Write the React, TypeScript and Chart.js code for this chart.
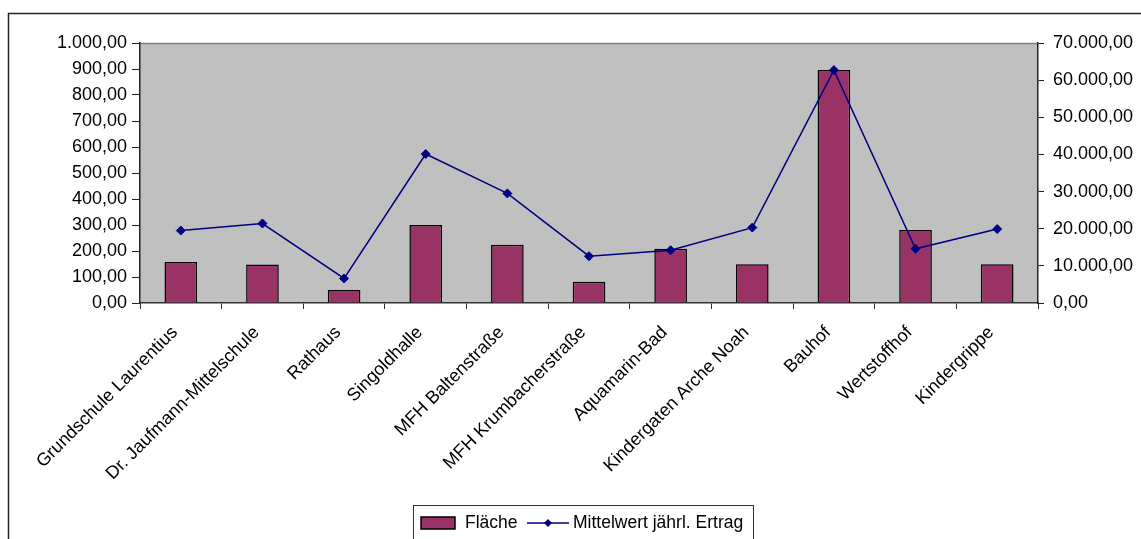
import React, { useEffect, useRef } from "react";
import { Chart, registerables } from "chart.js";

Chart.register(...registerables);

const categories = [
  "Grundschule Laurentius",
  "Dr. Jaufmann-Mittelschule",
  "Rathaus",
  "Singoldhalle",
  "MFH Baltenstraße",
  "MFH Krumbacherstraße",
  "Aquamarin-Bad",
  "Kindergaten Arche Noah",
  "Bauhof",
  "Wertstoffhof",
  "Kindergrippe",
];

// Fläche (left axis)
const flaeche = [158, 148, 50, 300, 224, 82, 209, 149, 896, 281, 149];

// Mittelwert jährl. Ertrag (right axis)
const ertrag = [19500, 21400, 6600, 40100, 29500, 12600, 14200, 20300, 62700, 14600, 19900];

const seriesNames = ["Fläche", "Mittelwert jährl. Ertrag"];

const leftTicks = { min: 0, max: 1000, step: 100 };
const rightTicks = { min: 0, max: 70000, step: 10000 };

const BAR_COLOR = "#993366";
const LINE_COLOR = "#000080";
const FONT = '"Liberation Sans", Arial, sans-serif';
const W = 1141;
const H = 539;

function formatDe(v: number): string {
  const [i, f] = Math.abs(v).toFixed(2).split(".");
  const intPart = i.replace(/\B(?=(\d{3})+(?!\d))/g, ".");
  return (v < 0 ? "-" : "") + intPart + "," + f;
}

const framePlugin = {
  id: "excelFrame",
  beforeDraw(chart: any) {
    const { ctx, chartArea } = chart;
    ctx.save();
    ctx.fillStyle = "#ffffff";
    ctx.fillRect(0, 0, chart.width, chart.height);
    // outer chart frame
    ctx.strokeStyle = "#222222";
    ctx.lineWidth = 1.5;
    ctx.beginPath();
    ctx.moveTo(8.5, H + 2);
    ctx.lineTo(8.5, 13.5);
    ctx.lineTo(W + 2, 13.5);
    ctx.stroke();
    // plot area
    ctx.fillStyle = "#C0C0C0";
    ctx.fillRect(chartArea.left, chartArea.top, chartArea.right - chartArea.left, chartArea.bottom - chartArea.top);
    ctx.strokeStyle = "#808080";
    ctx.lineWidth = 1.5;
    ctx.beginPath();
    ctx.moveTo(chartArea.left, chartArea.top + 0.5);
    ctx.lineTo(chartArea.right, chartArea.top + 0.5);
    ctx.stroke();
    ctx.restore();
  },
  afterDraw(chart: any) {
    const { ctx } = chart;
    ctx.save();
    // legend box
    const bx = 413.5;
    const by = 505.5;
    const bw = 340;
    ctx.strokeStyle = "#333333";
    ctx.lineWidth = 1;
    ctx.fillStyle = "#ffffff";
    ctx.fillRect(bx, by, bw, 40);
    ctx.strokeRect(bx, by, bw, 40);
    const cy = 523;
    // bar swatch
    ctx.fillStyle = BAR_COLOR;
    ctx.fillRect(421, 517, 34, 12);
    ctx.strokeStyle = "#000000";
    ctx.lineWidth = 1.5;
    ctx.strokeRect(421, 517, 34, 12);
    ctx.fillStyle = "#000000";
    ctx.font = `17.5px ${FONT}`;
    ctx.textBaseline = "middle";
    ctx.textAlign = "left";
    ctx.fillText(seriesNames[0], 465, cy);
    // line swatch
    ctx.strokeStyle = LINE_COLOR;
    ctx.lineWidth = 1.5;
    ctx.beginPath();
    ctx.moveTo(527, cy);
    ctx.lineTo(569, cy);
    ctx.stroke();
    ctx.fillStyle = LINE_COLOR;
    ctx.beginPath();
    ctx.moveTo(548, cy - 4);
    ctx.lineTo(552, cy);
    ctx.lineTo(548, cy + 4);
    ctx.lineTo(544, cy);
    ctx.closePath();
    ctx.fill();
    ctx.fillStyle = "#000000";
    ctx.fillText(seriesNames[1], 573, cy);
    ctx.restore();
  },
};

export default function App() {
  const canvasRef = useRef<HTMLCanvasElement | null>(null);

  useEffect(() => {
    const canvas = canvasRef.current;
    if (!canvas) return;
    const chart = new Chart(canvas, {
      type: "bar",
      data: {
        labels: categories,
        datasets: [
          {
            type: "line",
            label: seriesNames[1],
            data: ertrag,
            yAxisID: "y1",
            borderColor: LINE_COLOR,
            backgroundColor: LINE_COLOR,
            borderWidth: 1.5,
            pointStyle: "rectRot",
            pointRadius: 4.5,
            pointBorderWidth: 1,
            pointBackgroundColor: LINE_COLOR,
            pointBorderColor: LINE_COLOR,
            tension: 0,
            order: 0,
          } as any,
          {
            type: "bar",
            label: seriesNames[0],
            data: flaeche,
            yAxisID: "y",
            backgroundColor: BAR_COLOR,
            borderColor: "#000000",
            borderWidth: 1.5,
            barPercentage: 0.4,
            categoryPercentage: 1,
            order: 1,
          },
        ],
      },
      options: {
        responsive: false,
        animation: false,
        layout: { padding: { left: 0, right: 0, top: 43, bottom: 0 } },
        plugins: {
          legend: { display: false },
          tooltip: { enabled: false },
        },
        scales: {
          x: {
            offset: true,
            grid: {
              offset: true,
              drawOnChartArea: false,
              tickLength: 6,
              color: "#333333",
              lineWidth: 1,
            },
            border: { display: true, color: "#333333", width: 1.5 },
            ticks: {
              autoSkip: false,
              maxRotation: 45,
              minRotation: 45,
              color: "#000000",
              padding: 13,
              labelOffset: -6,
              font: { family: FONT, size: 18 },
            },
            afterFit(scale: any) {
              scale.height = H - 303;
            },
          },
          y: {
            position: "left",
            min: leftTicks.min,
            max: leftTicks.max,
            ticks: {
              stepSize: leftTicks.step,
              color: "#000000",
              padding: 5,
              font: { family: FONT, size: 18 },
              callback: (v: any) => formatDe(Number(v)),
            },
            grid: { drawOnChartArea: false, tickLength: 8, color: "#222222", lineWidth: 1 },
            border: { display: true, color: "#222222", width: 1.5 },
            afterFit(scale: any) {
              scale.width = 140;
            },
          },
          y1: {
            position: "right",
            min: rightTicks.min,
            max: rightTicks.max,
            ticks: {
              stepSize: rightTicks.step,
              color: "#000000",
              padding: 9,
              font: { family: FONT, size: 18 },
              callback: (v: any) => formatDe(Number(v)),
            },
            grid: { drawOnChartArea: false, tickLength: 6, color: "#222222", lineWidth: 1 },
            border: { display: true, color: "#222222", width: 1.5 },
            afterFit(scale: any) {
              scale.width = W - 1038;
            },
          },
        },
      },
      plugins: [framePlugin],
    });
    return () => chart.destroy();
  }, []);

  return (
    <div style={{ position: "fixed", left: 0, top: 0, width: W, height: H, background: "#fff" }}>
      <canvas ref={canvasRef} width={W} height={H} style={{ display: "block" }} />
    </div>
  );
}
